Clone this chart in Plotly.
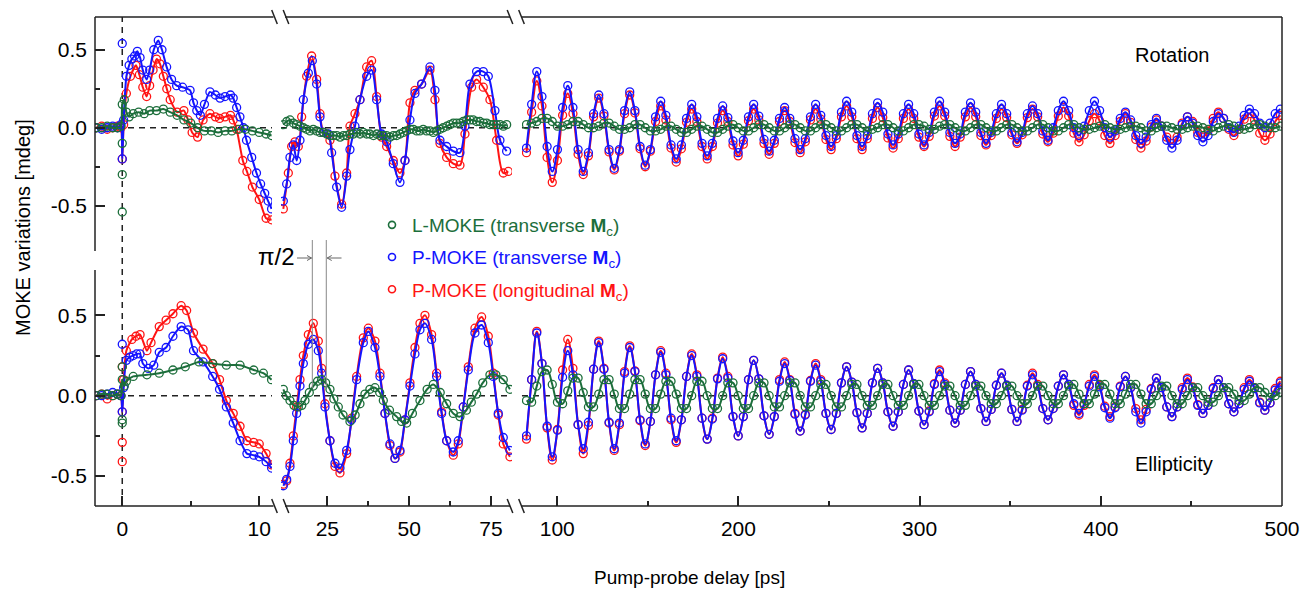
import numpy as np
import plotly.graph_objects as go

GREEN = "#1c6e3b"
BLUE = "#1414ff"
RED = "#ff1414"
FONT = "Liberation Sans, Arial, Helvetica, sans-serif"

# ---------------- segment 1 (-2 .. 11 ps), (t, value) ----------------
ROT_BLUE_S1 = [(-1.9, 0.0), (-1.5, -0.01), (-1.1, 0.0), (-0.7, 0.01), (-0.35, 0.0), (-0.1, 0.02), (0.0, -0.2),
               (0.1, 0.05), (0.3, 0.33), (0.5, 0.40), (0.7, 0.44), (0.9, 0.46), (1.1, 0.49), (1.3, 0.45),
               (1.5, 0.37), (1.78, 0.31), (2.0, 0.37), (2.3, 0.50), (2.63, 0.56), (2.9, 0.50), (3.24, 0.39),
               (3.6, 0.31), (3.97, 0.27), (4.4, 0.26), (4.95, 0.24), (5.2, 0.16), (5.44, 0.11), (5.7, 0.08),
               (6.0, 0.15), (6.4, 0.23), (6.8, 0.21), (7.14, 0.19), (7.5, 0.20), (7.9, 0.21), (8.1, 0.19),
               (8.35, 0.13), (8.59, 0.07), (8.85, 0.0), (9.07, -0.08), (9.45, -0.19), (9.8, -0.29),
               (10.1, -0.36), (10.4, -0.42), (10.65, -0.47), (10.9, -0.52)]
ROT_BLUE_S1_EXTRA = [(0.0, 0.54)]
ROT_RED_S1 = [(-1.9, 0.0), (-1.5, 0.01), (-1.1, -0.01), (-0.7, 0.0), (-0.35, 0.01), (-0.1, 0.0), (0.0, -0.2),
              (0.1, 0.02), (0.3, 0.22), (0.6, 0.33), (1.0, 0.40), (1.25, 0.34), (1.5, 0.26), (1.78, 0.20),
              (2.0, 0.27), (2.25, 0.37), (2.5, 0.44), (2.75, 0.41), (3.0, 0.33), (3.25, 0.25), (3.5, 0.18),
              (4.0, 0.10), (4.5, 0.11), (4.8, 0.05), (5.1, -0.03), (5.5, -0.06), (5.9, 0.05), (6.4, 0.09),
              (6.8, 0.07), (7.1, 0.06), (7.5, 0.07), (7.9, 0.08), (8.1, 0.05), (8.35, -0.01), (8.8, -0.21),
              (9.1, -0.28), (9.5, -0.38), (10.0, -0.46), (10.5, -0.58), (10.9, -0.59)]
ROT_RED_S1_EXTRA = []
ROT_GREEN_S1 = [(-1.9, 0.0), (-1.5, 0.0), (-1.1, 0.01), (-0.7, 0.0), (-0.35, 0.0), (-0.1, 0.01), (0.0, 0.15),
                (0.15, 0.18), (0.3, 0.10), (0.5, 0.07), (0.8, 0.09), (1.2, 0.10), (1.6, 0.09), (2.0, 0.11),
                (2.5, 0.11), (3.0, 0.12), (3.5, 0.10), (4.0, 0.08), (4.5, 0.05), (5.0, 0.03), (5.5, 0.0),
                (6.0, -0.02), (6.5, -0.02), (7.0, -0.03), (7.5, -0.02), (8.0, -0.02), (8.5, -0.01), (9.0, -0.01),
                (9.5, -0.02), (10.0, -0.03), (10.5, -0.04), (10.9, -0.05)]
ROT_GREEN_S1_EXTRA = [(0.0, -0.30), (0.0, -0.54), (0.0, -0.10)]

ELL_BLUE_S1 = [(-1.9, 0.0), (-1.5, 0.0), (-1.1, 0.01), (-0.7, 0.02), (-0.35, 0.01), (-0.1, 0.0), (0.0, -0.1),
               (0.1, 0.05), (0.3, 0.22), (0.55, 0.24), (0.8, 0.25), (1.05, 0.26), (1.3, 0.26), (1.5, 0.20),
               (1.9, 0.17), (2.3, 0.19), (2.7, 0.27), (3.2, 0.30), (3.7, 0.37), (4.3, 0.43), (4.8, 0.41),
               (5.2, 0.28), (5.9, 0.21), (6.6, 0.12), (7.1, 0.04), (7.6, -0.07), (8.1, -0.17), (8.6, -0.28),
               (9.1, -0.36), (9.6, -0.37), (10.0, -0.38), (10.5, -0.41), (10.9, -0.45)]
ELL_BLUE_S1_EXTRA = [(0.0, 0.32)]
ELL_RED_S1 = [(-1.9, 0.0), (-1.5, 0.01), (-1.1, -0.02), (-0.7, 0.0), (-0.35, 0.01), (-0.1, 0.0), (0.0, -0.1),
              (0.1, 0.10), (0.3, 0.28), (0.7, 0.35), (1.0, 0.37), (1.3, 0.38), (1.8, 0.28), (2.1, 0.33),
              (2.7, 0.43), (3.2, 0.47), (3.7, 0.51), (4.3, 0.56), (4.7, 0.53), (5.2, 0.39), (5.9, 0.29),
              (6.6, 0.20), (7.1, 0.10), (7.6, -0.03), (8.1, -0.11), (8.6, -0.19), (9.1, -0.28), (9.6, -0.29),
              (10.0, -0.30), (10.5, -0.36), (10.9, -0.43)]
ELL_RED_S1_EXTRA = [(0.0, -0.29), (0.0, -0.41), (0.0, 0.18)]
ELL_GREEN_S1 = [(-1.9, 0.0), (-1.5, 0.01), (-1.1, 0.01), (-0.7, 0.0), (-0.35, 0.01), (-0.1, 0.0), (0.0, 0.10),
                (0.15, 0.06), (0.3, 0.09), (0.8, 0.12), (1.8, 0.13), (2.7, 0.14), (3.7, 0.16), (4.6, 0.18),
                (5.6, 0.21), (6.6, 0.20), (7.6, 0.19), (8.6, 0.19), (9.6, 0.16), (10.3, 0.14), (10.9, 0.10)]
ELL_GREEN_S1_EXTRA = [(0.0, -0.15), (0.0, -0.17), (0.0, 0.18)]

# ---------------- segment 2 (11 .. 81 ps), (t, value) ----------------
ROT_BLUE_S2 = [(11.56, -0.47), (12.58, -0.36), (13.59, -0.19), (14.61, -0.11), (15.63, -0.21), (16.65, -0.08),
               (17.67, 0.18), (19.20, 0.35), (20.42, 0.43), (21.74, 0.28), (22.76, 0.07), (23.78, -0.03),
               (25.31, -0.04), (26.32, -0.16), (27.85, -0.38), (29.38, -0.51), (30.91, -0.31), (31.92, -0.14),
               (33.45, 0.01), (34.98, 0.18), (37.02, 0.33), (38.54, 0.37), (40.07, 0.18), (41.60, -0.04),
               (43.13, -0.09), (45.16, -0.23), (47.20, -0.35), (48.73, -0.21), (50.25, 0.05), (51.78, 0.22),
               (53.82, 0.28), (56.36, 0.39), (57.89, 0.24), (59.42, -0.08), (61.46, -0.12), (63.49, -0.15),
               (65.53, -0.16), (67.06, 0.01), (68.58, 0.28), (70.62, 0.36), (72.66, 0.36), (74.19, 0.33),
               (76.22, 0.11), (77.75, -0.08), (79.79, -0.15)]
ROT_RED_S2 = [(11.56, -0.52), (13.09, -0.29), (14.10, -0.12), (15.12, -0.09), (16.14, -0.12), (17.16, 0.07),
              (18.69, 0.33), (20.21, 0.46), (21.74, 0.31), (22.76, 0.09), (23.78, -0.03), (25.81, -0.08),
              (27.34, -0.31), (29.38, -0.49), (30.91, -0.29), (31.92, 0.01), (33.45, 0.09), (34.98, 0.18),
              (37.02, 0.39), (38.54, 0.43), (40.07, 0.20), (41.60, -0.06), (43.13, -0.12), (45.16, -0.21),
              (47.20, -0.29), (48.73, -0.21), (50.25, 0.16), (51.78, 0.24), (53.82, 0.28), (56.36, 0.37),
              (57.89, 0.18), (59.42, -0.10), (61.46, -0.19), (63.49, -0.23), (65.53, -0.24), (67.06, -0.04),
              (69.09, 0.26), (70.62, 0.31), (72.66, 0.26), (74.69, 0.18), (76.73, -0.08), (78.77, -0.29),
              (80.30, -0.28)]
ROT_GREEN_S2 = [(11.56, 0.02), (12.6, 0.04), (13.6, 0.05), (14.6, 0.03), (15.6, 0.02), (16.7, 0.01), (17.7, 0.0),
                (18.7, -0.01), (19.7, -0.02), (20.7, -0.01), (21.7, -0.02), (22.8, -0.03), (23.8, -0.03),
                (24.8, -0.04), (25.8, -0.05), (26.8, -0.05), (27.9, -0.05), (28.9, -0.06), (29.9, -0.05),
                (30.9, -0.05), (31.9, -0.04), (33.0, -0.04), (34.0, -0.03), (35.0, -0.04), (36.0, -0.03),
                (37.0, -0.04), (38.0, -0.04), (39.1, -0.05), (40.1, -0.04), (41.1, -0.05), (42.1, -0.05),
                (43.1, -0.05), (44.1, -0.06), (45.2, -0.05), (46.2, -0.05), (47.2, -0.04), (48.2, -0.03),
                (49.2, -0.02), (50.3, -0.01), (51.3, -0.01), (52.3, -0.02), (53.3, -0.02), (54.3, -0.01),
                (55.3, -0.02), (56.4, -0.02), (57.4, -0.03), (58.4, -0.02), (59.4, -0.01), (60.4, 0.0),
                (61.5, 0.01), (62.5, 0.02), (63.5, 0.03), (64.5, 0.03), (65.5, 0.03), (66.5, 0.04), (67.6, 0.05),
                (68.6, 0.05), (69.6, 0.05), (70.6, 0.04), (71.6, 0.04), (72.7, 0.03), (73.7, 0.03), (74.7, 0.02),
                (75.7, 0.02), (76.7, 0.02), (77.8, 0.02), (78.8, 0.01), (79.8, 0.02)]

ELL_BLUE_S2 = [(11.56, -0.56), (12.58, -0.52), (13.59, -0.44), (14.61, -0.28), (15.63, -0.11), (16.65, 0.06),
               (17.67, 0.20), (19.20, 0.32), (20.72, 0.35), (22.25, 0.28), (23.27, 0.14), (24.29, -0.07),
               (25.81, -0.28), (27.34, -0.42), (28.87, -0.45), (30.91, -0.34), (32.43, -0.15), (33.96, 0.10),
               (36.00, 0.33), (37.53, 0.40), (39.56, 0.30), (41.09, 0.12), (42.62, -0.11), (44.14, -0.30),
               (45.67, -0.39), (47.20, -0.34), (48.73, -0.15), (50.25, 0.06), (51.78, 0.26), (53.31, 0.41),
               (54.84, 0.45), (56.87, 0.35), (58.40, 0.12), (59.93, -0.11), (61.46, -0.28), (63.49, -0.35),
               (65.02, -0.28), (66.55, -0.07), (68.08, 0.16), (70.11, 0.39), (72.15, 0.44), (74.19, 0.33),
               (75.71, 0.12), (77.24, -0.11), (78.77, -0.26), (80.80, -0.34)]
ELL_RED_S2 = [(11.56, -0.55), (12.58, -0.53), (13.59, -0.42), (14.61, -0.25), (15.63, -0.07), (16.65, 0.10),
              (17.67, 0.25), (19.20, 0.38), (20.72, 0.45), (22.25, 0.34), (23.27, 0.17), (24.29, -0.05),
              (25.81, -0.28), (27.34, -0.44), (28.87, -0.48), (30.91, -0.36), (32.43, -0.14), (33.96, 0.12),
              (36.00, 0.36), (37.53, 0.42), (39.56, 0.34), (41.09, 0.14), (42.62, -0.11), (44.14, -0.31),
              (45.67, -0.39), (47.20, -0.35), (48.73, -0.15), (50.25, 0.08), (51.78, 0.30), (53.31, 0.45),
              (54.84, 0.50), (56.87, 0.38), (58.40, 0.14), (59.93, -0.10), (61.46, -0.28), (63.49, -0.37),
              (65.02, -0.30), (66.55, -0.07), (68.08, 0.18), (70.11, 0.42), (72.15, 0.49), (74.19, 0.37),
              (75.71, 0.14), (77.24, -0.12), (78.77, -0.30), (80.80, -0.38)]
ELL_GREEN_S2 = [(11.56, 0.04), (12.5, 0.0), (13.59, -0.03), (14.8, -0.06), (16.14, -0.07), (17.2, -0.06),
                (18.18, -0.03), (19.5, 0.02), (20.72, 0.06), (22.0, 0.09), (23.27, 0.10), (24.5, 0.08),
                (25.81, 0.04), (27.0, -0.02), (28.36, -0.07), (29.8, -0.12), (31.92, -0.16), (33.5, -0.12),
                (34.98, -0.05), (36.5, 0.01), (38.0, 0.04), (39.56, 0.05), (41.0, 0.02), (42.11, -0.03),
                (44.0, -0.09), (46.18, -0.13), (47.7, -0.16), (49.24, -0.17), (51.0, -0.11), (53.31, -0.03),
                (55.5, 0.04), (57.38, 0.07), (59.5, 0.02), (61.46, -0.05), (63.5, -0.11), (65.53, -0.13),
                (67.5, -0.09), (69.0, -0.04), (70.62, 0.01), (72.5, 0.08), (74.69, 0.13), (76.5, 0.13),
                (78.77, 0.10), (80.80, 0.04)]

# ---------------- segment 3 (81 .. 500 ps): delays start 83 ps, step 2.85 ps ----------------
S3_START = 83.0
S3_STEP = 2.85
ROT_BLUE_S3 = [-0.13, 0.15, 0.36, 0.20, -0.12, -0.28,
               -0.14, 0.13, 0.27, 0.13, -0.14, -0.28, -0.16, 0.09, 0.21, 0.09, -0.14, -0.26,
               -0.14, 0.11, 0.23, 0.11, -0.12, -0.24, -0.14, 0.07, 0.17, 0.08, -0.11, -0.20,
               -0.11, 0.06, 0.15, 0.07, -0.10, -0.18, -0.10, 0.06, 0.14, 0.065, -0.085, -0.16,
               -0.08, 0.07, 0.15, 0.075, -0.075, -0.15, -0.08, 0.06, 0.13, 0.06, -0.07, -0.14,
               -0.07, 0.07, 0.15, 0.08, -0.05, -0.12, -0.05, 0.10, 0.17, 0.10, -0.05, -0.12,
               -0.05, 0.09, 0.16, 0.10, -0.04, -0.11, -0.04, 0.09, 0.15, 0.09, -0.04, -0.11,
               -0.03, 0.10, 0.17, 0.10, -0.03, -0.10, -0.04, 0.10, 0.16, 0.10, -0.03, -0.10,
               -0.03, 0.09, 0.15, 0.09, -0.03, -0.09, -0.03, 0.09, 0.14, 0.09, -0.02, -0.08,
               0.00, 0.11, 0.17, 0.11, 0.00, -0.05, 0.01, 0.11, 0.17, 0.11, 0.00, -0.06,
               -0.02, 0.06, 0.10, 0.05, -0.05, -0.10, -0.06, 0.02, 0.06, 0.01, -0.08, -0.13,
               -0.08, 0.02, 0.07, 0.03, -0.05, -0.09, -0.05, 0.04, 0.09, 0.06, 0.00, -0.03,
               0.01, 0.08, 0.12, 0.09, 0.03, 0.00, 0.03, 0.09, 0.12]
ROT_RED_S3 = [-0.16, 0.10, 0.30, 0.14, -0.19, -0.35,
              -0.21, 0.08, 0.22, 0.09, -0.17, -0.30, -0.18, 0.07, 0.19, 0.075, -0.155, -0.27,
              -0.15, 0.09, 0.21, 0.095, -0.135, -0.25, -0.15, 0.04, 0.14, 0.05, -0.13, -0.22,
              -0.135, 0.035, 0.12, 0.04, -0.12, -0.20, -0.12, 0.03, 0.11, 0.04, -0.11, -0.18,
              -0.105, 0.045, 0.12, 0.05, -0.10, -0.17, -0.10, 0.04, 0.11, 0.04, -0.095, -0.16,
              -0.09, 0.05, 0.12, 0.055, -0.075, -0.14, -0.07, 0.07, 0.14, 0.07, -0.07, -0.14,
              -0.07, 0.06, 0.13, 0.065, -0.065, -0.13, -0.07, 0.06, 0.12, 0.06, -0.06, -0.12,
              -0.055, 0.075, 0.14, 0.075, -0.055, -0.12, -0.06, 0.07, 0.13, 0.07, -0.05, -0.11,
              -0.05, 0.06, 0.12, 0.065, -0.045, -0.10, -0.045, 0.065, 0.12, 0.07, -0.04, -0.09,
              -0.035, 0.075, 0.13, 0.075, -0.035, -0.09, -0.045, 0.045, 0.09, 0.045, -0.05, -0.10,
              -0.05, 0.04, 0.09, 0.035, -0.075, -0.13, -0.085, 0.005, 0.05, 0.01, -0.06, -0.10,
              -0.06, 0.03, 0.07, 0.04, -0.03, -0.06, -0.02, 0.06, 0.10, 0.06, -0.01, -0.05,
              -0.01, 0.055, 0.09, 0.05, -0.035, -0.08, -0.04, 0.04, 0.08]
ROT_GREEN_S3 = [0.02, 0.03, 0.04, 0.06, 0.06, 0.04, 0.01, 0.01, 0.02, 0.04, 0.04, 0.02,
                0.00, 0.00, 0.01, 0.03, 0.03, 0.01, -0.01, -0.01, 0.00, 0.02, 0.02, 0.00,
                -0.02, -0.02, -0.01, 0.01, 0.01, -0.01, -0.03, -0.03, -0.01, 0.01, 0.01, -0.01,
                -0.03, -0.03, -0.01, 0.01, 0.02, 0.00, -0.02, -0.02, 0.00, 0.02, 0.02, 0.00,
                -0.02, -0.02, 0.00, 0.02, 0.02, 0.00, -0.02, -0.02, 0.00, 0.02, 0.02, 0.00,
                -0.02, -0.02, 0.00, 0.02, 0.02, 0.00, -0.02, -0.01, 0.00, 0.02, 0.02, 0.00,
                -0.02, -0.02, 0.00, 0.02, 0.02, 0.01, -0.01, -0.01, 0.01, 0.02, 0.02, 0.00,
                -0.02, -0.02, 0.00, 0.02, 0.02, 0.00, -0.02, -0.02, 0.00, 0.02, 0.02, 0.00,
                -0.02, -0.02, 0.00, 0.02, 0.02, 0.00, -0.02, -0.02, 0.00, 0.02, 0.02, 0.00,
                -0.01, -0.01, 0.00, 0.01, 0.02, 0.00, -0.01, -0.01, 0.00, 0.01, 0.01, 0.00,
                -0.02, -0.02, 0.00, 0.01, 0.01, 0.00, -0.01, -0.01, 0.00, 0.01, 0.01, 0.00,
                -0.01, -0.02, 0.00, 0.01, 0.02, 0.01, -0.01, -0.01, 0.00, 0.02, 0.02, 0.01,
                0.00, 0.00, 0.01]
ELL_BLUE_S3 = [-0.25, 0.10, 0.39, 0.20, -0.19, -0.38,
               -0.215, 0.115, 0.28, 0.13, -0.18, -0.33, -0.165, 0.165, 0.33, 0.165, -0.165, -0.33,
               -0.17, 0.14, 0.30, 0.15, -0.15, -0.30, -0.16, 0.13, 0.27, 0.13, -0.14, -0.28,
               -0.15, 0.12, 0.25, 0.12, -0.14, -0.27, -0.145, 0.105, 0.23, 0.11, -0.13, -0.25,
               -0.13, 0.10, 0.22, 0.105, -0.125, -0.24, -0.13, 0.09, 0.20, 0.095, -0.115, -0.22,
               -0.12, 0.09, 0.19, 0.09, -0.11, -0.21, -0.11, 0.08, 0.18, 0.085, -0.105, -0.20,
               -0.11, 0.08, 0.17, 0.08, -0.10, -0.19, -0.10, 0.07, 0.16, 0.075, -0.095, -0.18,
               -0.10, 0.07, 0.15, 0.07, -0.09, -0.17, -0.09, 0.07, 0.15, 0.07, -0.08, -0.16,
               -0.085, 0.065, 0.14, 0.065, -0.085, -0.16, -0.09, 0.06, 0.13, 0.06, -0.08, -0.15,
               -0.08, 0.06, 0.13, 0.07, -0.05, -0.11, -0.05, 0.06, 0.12, 0.055, -0.075, -0.14,
               -0.075, 0.055, 0.12, 0.05, -0.10, -0.17, -0.10, 0.04, 0.11, 0.05, -0.07, -0.13,
               -0.07, 0.04, 0.10, 0.05, -0.06, -0.11, -0.06, 0.045, 0.10, 0.05, -0.05, -0.10,
               -0.05, 0.04, 0.09, 0.045, -0.045, -0.09, -0.045, 0.035, 0.08]
ELL_RED_S3 = [-0.27, 0.10, 0.40, 0.20, -0.20, -0.40,
              -0.21, 0.16, 0.35, 0.17, -0.18, -0.36, -0.185, 0.165, 0.34, 0.17, -0.17, -0.34,
              -0.18, 0.15, 0.31, 0.155, -0.155, -0.31, -0.16, 0.13, 0.28, 0.14, -0.15, -0.29,
              -0.15, 0.12, 0.26, 0.13, -0.14, -0.27, -0.14, 0.11, 0.24, 0.12, -0.13, -0.25,
              -0.13, 0.10, 0.22, 0.105, -0.125, -0.24, -0.13, 0.10, 0.21, 0.10, -0.11, -0.22,
              -0.115, 0.095, 0.20, 0.10, -0.11, -0.21, -0.11, 0.08, 0.18, 0.085, -0.105, -0.20,
              -0.11, 0.08, 0.17, 0.08, -0.10, -0.19, -0.10, 0.07, 0.16, 0.075, -0.095, -0.18,
              -0.095, 0.075, 0.16, 0.08, -0.09, -0.17, -0.09, 0.07, 0.15, 0.07, -0.08, -0.16,
              -0.085, 0.065, 0.14, 0.065, -0.085, -0.16, -0.085, 0.065, 0.14, 0.07, -0.08, -0.15,
              -0.08, 0.06, 0.13, 0.07, -0.06, -0.12, -0.06, 0.07, 0.13, 0.065, -0.065, -0.13,
              -0.07, 0.06, 0.12, 0.05, -0.08, -0.15, -0.085, 0.045, 0.11, 0.05, -0.07, -0.13,
              -0.07, 0.05, 0.11, 0.055, -0.055, -0.11, -0.06, 0.05, 0.10, 0.05, -0.05, -0.10,
              -0.05, 0.05, 0.10, 0.05, -0.04, -0.09, -0.045, 0.045, 0.09]
ELL_GREEN_S3 = [-0.03, -0.04, 0.06, 0.15, 0.16, 0.07, -0.04, -0.05, 0.03, 0.11, 0.11, 0.02,
                -0.07, -0.07, 0.01, 0.10, 0.10, 0.01, -0.08, -0.08, 0.01, 0.10, 0.10, 0.01,
                -0.08, -0.08, 0.01, 0.09, 0.09, 0.01, -0.08, -0.08, 0.00, 0.09, 0.09, 0.00,
                -0.08, -0.08, 0.00, 0.08, 0.08, 0.00, -0.08, -0.08, 0.00, 0.08, 0.08, 0.00,
                -0.07, -0.07, 0.00, 0.08, 0.08, 0.00, -0.07, -0.07, 0.00, 0.07, 0.07, 0.00,
                -0.07, -0.07, 0.00, 0.07, 0.07, 0.00, -0.06, -0.06, 0.00, 0.07, 0.07, 0.00,
                -0.06, -0.06, 0.00, 0.07, 0.07, 0.00, -0.06, -0.06, 0.00, 0.06, 0.06, 0.00,
                -0.06, -0.06, 0.00, 0.06, 0.06, 0.00, -0.05, -0.05, 0.00, 0.06, 0.06, 0.00,
                -0.05, -0.05, 0.00, 0.06, 0.06, 0.00, -0.05, -0.05, 0.00, 0.06, 0.07, 0.01,
                -0.05, -0.05, 0.01, 0.07, 0.07, 0.01, -0.05, -0.05, 0.01, 0.07, 0.07, 0.01,
                -0.05, -0.05, 0.00, 0.06, 0.06, 0.00, -0.05, -0.05, 0.00, 0.05, 0.05, 0.00,
                -0.04, -0.04, 0.00, 0.05, 0.05, 0.01, -0.03, -0.03, 0.01, 0.05, 0.05, 0.02,
                -0.01, 0.00, 0.02]

# ---------------- axes geometry ----------------
SEG_RANGES = [(-1.99, 10.93), (10.85, 81.43), (80.52, 500.0)]
SEG_DOMAINS = [(0.0, 0.1491), (0.1567, 0.3513), (0.3597, 1.0)]
SEG_TICKS = [[0, 10], [25, 50, 75], [100, 200, 300, 400, 500]]
SEG_MINOR = [[5], [37.5, 62.5], [150, 250, 350, 450]]
SEG_SMOOTH = [0.6, 0.9, 1.1]
ROT_RANGE = (-0.79, 0.71)
ELL_RANGE = (-0.686, 0.782)
Y_TICKS = [-0.5, 0.0, 0.5]
Y_TICKTEXT = ["-0.5", "0.0", "0.5"]
PI2_LINES = [20.42, 24.69]

W, H = 1314, 591
ML, MR, MT, MB = 95, 32, 17, 85
PW, PH = W - ML - MR, H - MT - MB


def px(x):
    return (x - ML) / PW


def py(y):
    return (H - MB - y) / PH


fig = go.Figure()


def unpack(pairs):
    return [p[0] for p in pairs], [p[1] for p in pairs]


def add_series(t, v, color, xa, ya, smooth):
    fig.add_trace(go.Scatter(
        x=t, y=v, mode="lines+markers", xaxis=xa, yaxis=ya, showlegend=False,
        line=dict(color=color, width=2, shape="spline", smoothing=smooth),
        marker=dict(symbol="circle-open", size=8, color=color, line=dict(width=1.3, color=color)),
        hoverinfo="skip"))


def add_points(pairs, color, xa, ya):
    if not pairs:
        return
    t, v = unpack(pairs)
    fig.add_trace(go.Scatter(
        x=t, y=v, mode="markers", xaxis=xa, yaxis=ya, showlegend=False,
        marker=dict(symbol="circle-open", size=8, color=color, line=dict(width=1.3, color=color)),
        hoverinfo="skip"))


def s3_times(vals):
    return [round(S3_START + S3_STEP * k, 2) for k in range(len(vals))]


panels = [
    ("x4", "x5", "x6", "y2",
     [(ROT_RED_S1, ROT_RED_S1_EXTRA, ROT_RED_S2, ROT_RED_S3, RED),
      (ROT_BLUE_S1, ROT_BLUE_S1_EXTRA, ROT_BLUE_S2, ROT_BLUE_S3, BLUE),
      (ROT_GREEN_S1, ROT_GREEN_S1_EXTRA, ROT_GREEN_S2, ROT_GREEN_S3, GREEN)]),
    ("x", "x2", "x3", "y",
     [(ELL_RED_S1, ELL_RED_S1_EXTRA, ELL_RED_S2, ELL_RED_S3, RED),
      (ELL_BLUE_S1, ELL_BLUE_S1_EXTRA, ELL_BLUE_S2, ELL_BLUE_S3, BLUE),
      (ELL_GREEN_S1, ELL_GREEN_S1_EXTRA, ELL_GREEN_S2, ELL_GREEN_S3, GREEN)]),
]
for xa1, xa2, xa3, ya, series in panels:
    for s1, ex, s2, s3, col in series:
        t, v = unpack(s1)
        add_series(t, v, col, xa1, ya, SEG_SMOOTH[0])
        add_points(ex, col, xa1, ya)
        t, v = unpack(s2)
        add_series(t, v, col, xa2, ya, SEG_SMOOTH[1])
        add_series(s3_times(s3), s3, col, xa3, ya, SEG_SMOOTH[2])

# legend-only entries
LEGEND = [
    (GREEN, 'L-MOKE (transverse <b>M</b><sub>c</sub>)'),
    (BLUE, 'P-MOKE (transverse <b>M</b><sub>c</sub>)'),
    (RED, 'P-MOKE (longitudinal <b>M</b><sub>c</sub>)'),
]
for i, (col, name) in enumerate(LEGEND):
    fig.add_trace(go.Scatter(
        x=[None], y=[None], mode="markers", xaxis="x", yaxis="y", legendgroup="g%d" % i,
        name='<span style="color:%s">%s</span>' % (col, name),
        marker=dict(symbol="circle-open", size=7, color=col, line=dict(width=1.6, color=col))))

tickfont = dict(family=FONT, size=21, color="black")
layout = dict(
    width=W, height=H, autosize=False,
    margin=dict(l=ML, r=MR, t=MT, b=MB, pad=0),
    paper_bgcolor="white", plot_bgcolor="white",
    font=dict(family=FONT, color="black"),
    legend=dict(x=px(372), y=py(206), xanchor="left", yanchor="top", bgcolor="rgba(0,0,0,0)",
                font=dict(family=FONT, size=19), tracegroupgap=4.5, itemwidth=30),
    showlegend=True,
)
axnames_bottom = ["xaxis", "xaxis2", "xaxis3"]
axnames_top = ["xaxis4", "xaxis5", "xaxis6"]
for i in range(3):
    common = dict(domain=list(SEG_DOMAINS[i]), range=list(SEG_RANGES[i]), showgrid=False, zeroline=False,
                  showline=False, fixedrange=True)
    layout[axnames_bottom[i]] = dict(
        common, anchor="y", tickmode="array", tickvals=SEG_TICKS[i],
        ticktext=[str(v) for v in SEG_TICKS[i]], ticks="inside", ticklen=10, tickwidth=1.5,
        tickcolor="#222", tickfont=tickfont, ticklabelstandoff=8,
        minor=dict(tickvals=SEG_MINOR[i], ticks="inside", ticklen=5, tickwidth=1.5, tickcolor="#222"))
    layout[axnames_top[i]] = dict(common, anchor="y2", showticklabels=False, ticks="")

ycommon = dict(showgrid=False, zeroline=False, showline=False, fixedrange=True, tickmode="array",
               tickvals=Y_TICKS, ticktext=Y_TICKTEXT, ticks="inside", ticklen=10, tickwidth=1.5,
               tickcolor="#222", tickfont=tickfont, ticklabelstandoff=7,
               minor=dict(tickvals=[-0.25, 0.25], ticks="inside", ticklen=5, tickwidth=1.5, tickcolor="#222"))
layout["yaxis"] = dict(ycommon, domain=[0.0, py(270)], range=list(ELL_RANGE), anchor="x")
layout["yaxis2"] = dict(ycommon, domain=[py(251), 1.0], range=list(ROT_RANGE), anchor="x4")
fig.update_layout(**layout)

shapes = []
FR = dict(color="#222", width=1.5)


def pline(x0, y0, x1, y1, line=FR):
    shapes.append(dict(type="line", xref="paper", yref="paper", x0=px(x0), y0=py(y0), x1=px(x1), y1=py(y1),
                       line=line, layer="above"))


for yy in (17, 506):
    pline(95, yy, 273.5, yy)
    pline(285, yy, 510, yy)
    pline(521.5, yy, 1282, yy)
    for xc in (274.5, 286.0, 510.0, 521.5):
        pline(xc - 2.8, yy - 7, xc + 2.8, yy + 7)
pline(95, 17, 95, 251)
pline(95, 270, 95, 506)
pline(1282, 17, 1282, 506)

DASH = dict(color="#222", width=1.5, dash="6px,5px")
for i, xa in enumerate(["x", "x2", "x3"]):
    for yref in ("y", "y2"):
        shapes.append(dict(type="line", xref="paper", yref=yref, x0=SEG_DOMAINS[i][0], x1=SEG_DOMAINS[i][1],
                           y0=0, y1=0, line=DASH, layer="below"))
shapes.append(dict(type="line", xref="x", yref="paper", x0=0, x1=0, y0=0, y1=1, line=DASH, layer="below"))
for xv in PI2_LINES:
    shapes.append(dict(type="line", xref="x2", yref="paper", x0=xv, x1=xv, y0=py(388), y1=py(240),
                       line=dict(color="#888", width=1), layer="above"))

# pi/2 arrows (pixel positions of the two guide lines: 312.3 and 326.3)
ARW = dict(color="#666", width=1)
AY = 258
pline(297, AY, 311.5, AY, ARW)
pline(307, AY - 2.5, 311.5, AY, ARW)
pline(307, AY + 2.5, 311.5, AY, ARW)
pline(341.5, AY, 327.2, AY, ARW)
pline(331.7, AY - 2.5, 327.2, AY, ARW)
pline(331.7, AY + 2.5, 327.2, AY, ARW)
fig.update_layout(shapes=shapes)

ann = [
    dict(text="MOKE variations [mdeg]", x=px(23), y=py(228), xref="paper", yref="paper", showarrow=False,
         textangle=-90, font=dict(family=FONT, size=20), xanchor="center", yanchor="middle"),
    dict(text="Pump-probe delay [ps]", x=px(690), y=py(577), xref="paper", yref="paper", showarrow=False,
         font=dict(family=FONT, size=19), xanchor="center", yanchor="middle"),
    dict(text="Rotation", x=px(1172), y=py(55), xref="paper", yref="paper", showarrow=False,
         font=dict(family=FONT, size=20), xanchor="center", yanchor="middle"),
    dict(text="Ellipticity", x=px(1174), y=py(464), xref="paper", yref="paper", showarrow=False,
         font=dict(family=FONT, size=20), xanchor="center", yanchor="middle"),
    dict(text="\u03c0/2", x=px(276), y=py(256), xref="paper", yref="paper", showarrow=False,
         font=dict(family=FONT, size=24), xanchor="center", yanchor="middle"),
]
fig.update_layout(annotations=ann)

fig.write_html("out.html", config={"displayModeBar": False},
               post_script="document.body.style.margin='0';document.body.style.padding='0';"
                           "document.body.style.overflow='hidden';")
